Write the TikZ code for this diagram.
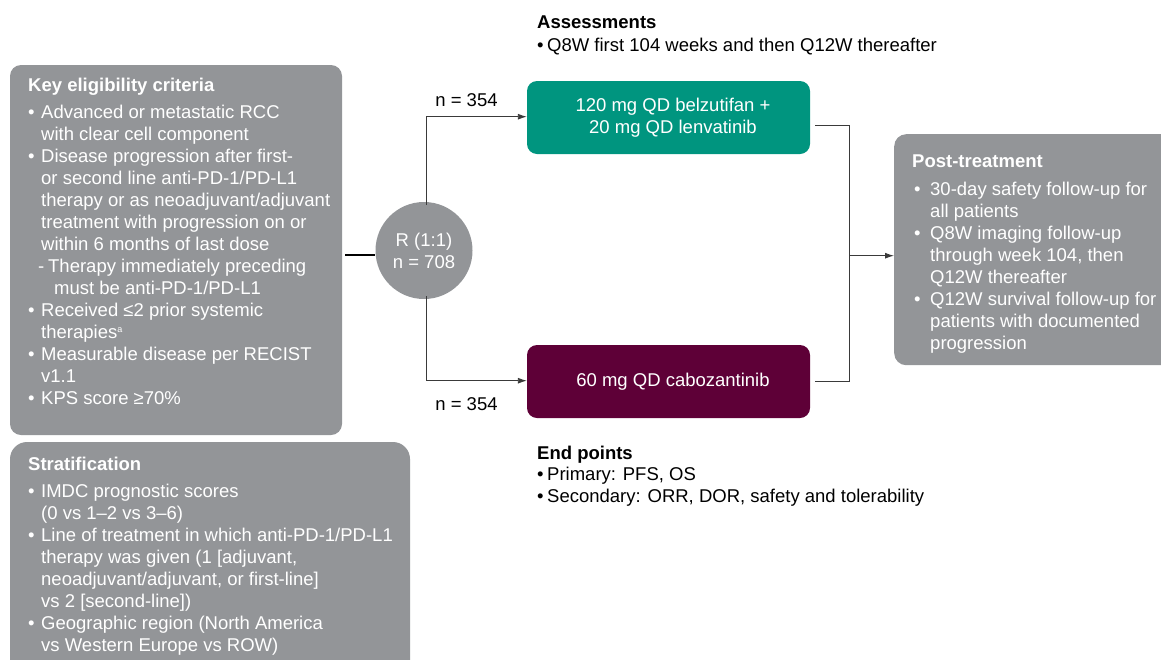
\documentclass[tikz,border=0pt]{standalone}
\usepackage{fontspec}
\setmainfont{Liberation Sans}
\usetikzlibrary{arrows.meta,shapes.geometric,calc}
\definecolor{boxgray}{HTML}{939598}
\definecolor{armgreen}{HTML}{00957F}
\definecolor{armred}{HTML}{5E0037}
\definecolor{linegray}{HTML}{3A3A3A}
\newcommand\bi{\makebox[13pt][l]{•}}
\newcommand\ci{\hspace*{13pt}}
\newcommand\pbi{\makebox[18pt][l]{\hspace*{2pt}•}}
\newcommand\pci{\hspace*{18pt}}
\newcommand\abi{\makebox[10pt][l]{•}}
\newcommand\supa{\raisebox{6pt}{\fontsize{9}{9}\selectfont a}}
\tikzset{
  graybox/.style={fill=boxgray, draw=none, inner sep=0pt},
  boxtext/.style={anchor=base west, align=left, inner sep=0pt, text=white},
  plaintext/.style={anchor=base west, align=left, inner sep=0pt, text=black},
  armbox/.style={rounded corners=10pt, minimum width=283pt, minimum height=73pt, inner sep=0pt},
  armlabel/.style={text=white, align=center, xshift=4.5pt},
  conn/.style={draw=linegray, line width=0.9pt},
  arr/.style={conn, -{Latex[length=9pt,width=6pt]}},
}
\begin{document}
\begin{tikzpicture}[x=1pt,y=-1pt, font=\fontsize{18.5}{22}\selectfont]
\useasboundingbox (0,0) rectangle (1161,659);
\clip (0,0) rectangle (1161,659);

% eligibility box
\node[graybox, rounded corners=11pt, minimum width=332pt, minimum height=370pt] (E) at (176,250) {};
\node[boxtext] (Et) at (28,404) {{\bfseries Key eligibility criteria}\\[5pt]
\bi Advanced or metastatic RCC\\
\ci with clear cell component\\
\bi Disease progression after first-\\
\ci or second line anti-PD-1/PD-L1\\
\ci therapy or as neoadjuvant/adjuvant\\
\ci treatment with progression on or\\
\ci within 6 months of last dose\\
\hspace*{10pt}\makebox[10pt][l]{-}Therapy immediately preceding\\
\hspace*{26pt}must be anti-PD-1/PD-L1\\
\bi Received ≤2 prior systemic\\
\ci therapies\supa\\
\bi Measurable disease per RECIST\\
\ci v1.1\\
\bi KPS score ≥70\%};

% stratification box
\node[graybox, rounded corners=17pt, minimum width=400pt, minimum height=250pt] (S) at (210,567) {};
\node[boxtext] (St) at (28,651) {{\bfseries Stratification}\\[5pt]
\bi IMDC prognostic scores\\
\ci (0 vs 1–2 vs 3–6)\\
\bi Line of treatment in which anti-PD-1/PD-L1\\
\ci therapy was given (1 [adjuvant,\\
\ci neoadjuvant/adjuvant, or first-line]\\
\ci vs 2 [second-line])\\
\bi Geographic region (North America\\
\ci vs Western Europe vs ROW)};

% randomisation
\node[circle, fill=boxgray, minimum size=97pt, inner sep=0pt, text=white, align=center] (R) at (424,250.5) {R (1:1)\\n = 708};

% arms
\node[armbox, fill=armgreen, label={[armlabel]center:120 mg QD belzutifan +\\20 mg QD lenvatinib}] (A) at (668.5,117.5) {};
\node[armbox, fill=armred, label={[armlabel]center:60 mg QD cabozantinib}] (B) at (668.5,381.5) {};

\node[inner sep=0pt] (n1) at (466.5,100) {n = 354};
\node[inner sep=0pt] (n2) at (466.5,404) {n = 354};

% post-treatment
\node[graybox, rounded corners=12pt, minimum width=300pt, minimum height=231pt, anchor=north west] (P) at (894,134) {};
\node[boxtext] (Pt) at (912,349) {{\bfseries Post-treatment}\\[6pt]
\pbi 30-day safety follow-up for\\
\pci all patients\\
\pbi Q8W imaging follow-up\\
\pci through week 104, then\\
\pci Q12W thereafter\\
\pbi Q12W survival follow-up for\\
\pci patients with documented\\
\pci progression};

% assessments / end points
\node[plaintext] (As) at (537,51) {{\bfseries Assessments}\\[1pt]
\abi Q8W first 104 weeks and then Q12W thereafter};
\node[plaintext] (Ep) at (537,502) {{\bfseries End points}\\[-1pt]
\abi Primary: PFS, OS\\
\abi Secondary: ORR, DOR, safety and tolerability};

% connectors
\draw[line width=1.6pt, black] ($(E.east |- 0,254.7)+(3,0)$) -- (R.west |- 0,254.7);
\draw[arr, shorten <=-3pt] ([xshift=2pt]R.north) |- (A.west |- 0,116.7);
\draw[arr, shorten <=-3pt] ([xshift=2pt]R.south) |- (B.west |- 0,380.7);
\coordinate (ja) at ($(A.east)+(5,8.2)$);
\coordinate (jb) at ($(B.east)+(5,0.2)$);
\coordinate (m) at (849,255.7);
\draw[conn] (ja) -| (m);
\draw[conn] (jb) -| (m);
\draw[arr] (m) -- (P.west |- m);
\end{tikzpicture}
\end{document}
